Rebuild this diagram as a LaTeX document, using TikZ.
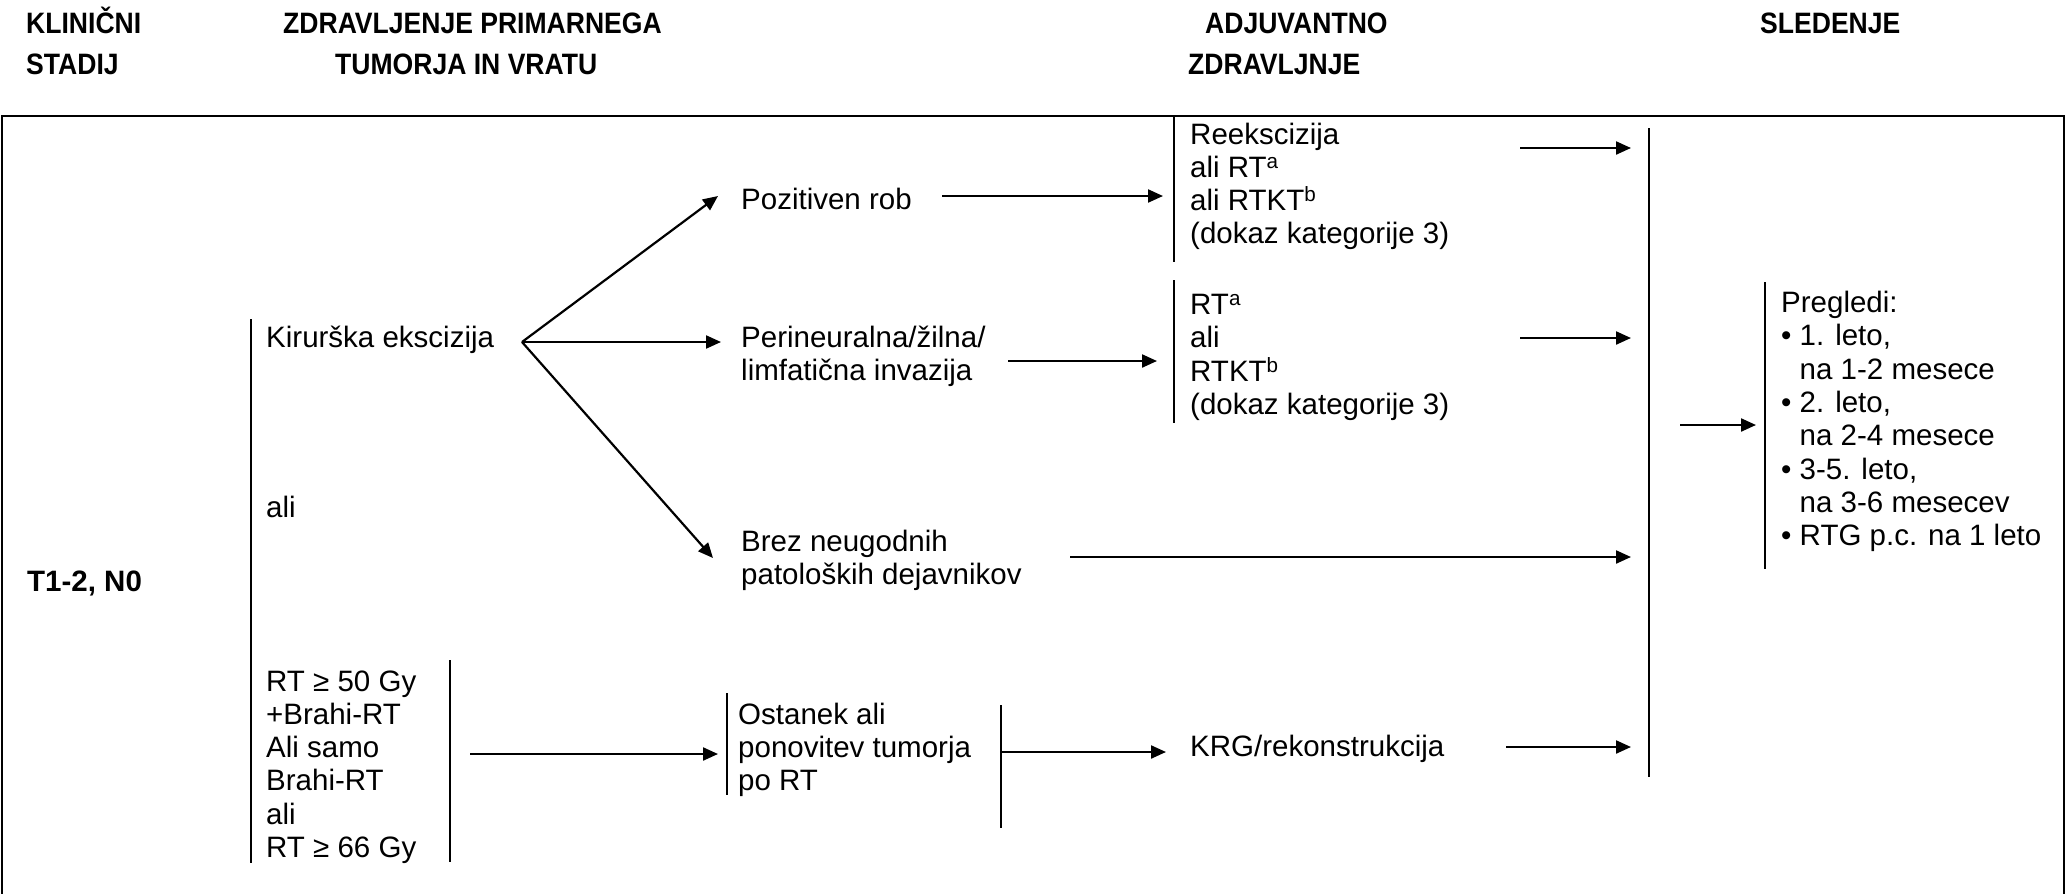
\documentclass[tikz,border=0pt]{standalone}
\usepackage{fontspec}
\setmainfont{Liberation Sans}
\usetikzlibrary{arrows.meta}

% one text line per node; a stack places lines 33.3 units apart
\newcommand\stack[4]{%
  \foreach \l [count=\i] in {#4}{%
    \node[txt] (#1\i) at (#2,{#3+(\i-1)*33.3}) {\l};}}
% narrowed bold heading text
\newcommand\headtext[1]{\scalebox{0.9}[1]{#1}}

\begin{document}
\begin{tikzpicture}[x=1pt,y=-1pt,
  txt/.style={anchor=base west,inner sep=0pt,font=\fontsize{29.5}{33}\selectfont},
  head/.style={anchor=base west,inner sep=0pt,font=\fontsize{29.5}{33}\selectfont\bfseries},
  bar/.style={line width=2.2pt},
  arr/.style={line width=2.2pt,-{Triangle[length=15pt,width=13pt]}},
  frame/.style={line width=2.6pt}]
\useasboundingbox (0,0) rectangle (2067,894);

% column headings
\node[head] (h1a) at (26,33) {\headtext{KLINIČNI}};
\node[head] (h1b) at (26,74) {\headtext{STADIJ}};
\node[head] (h2a) at (283,33) {\headtext{ZDRAVLJENJE PRIMARNEGA}};
\node[head] (h2b) at (335,74) {\headtext{TUMORJA IN VRATU}};
\node[head] (h3a) at (1205,33) {\headtext{ADJUVANTNO}};
\node[head] (h3b) at (1188,74) {\headtext{ZDRAVLJNJE}};
\node[head] (h4)  at (1760,33) {\headtext{SLEDENJE}};

% outer frame (open at the bottom)
\draw[frame] (2,930) -- (2,116) -- (2064,116) -- (2064,930);

% stage
\node[head] (stage) at (27,591) {T1-2, N0};

% primary treatment
\draw[bar] (251,319) -- (251,863);
\node[txt] (kir) at (266,347) {Kirurška ekscizija};
\node[txt] (ali) at (266,517) {ali};
\stack{rt}{266}{691}{RT ≥ 50 Gy, +Brahi-RT, Ali samo, Brahi-RT, ali, RT ≥ 66 Gy}
\draw[bar] (450,660) -- (450,862);

% outcomes after surgery
\node[txt] (poz) at (741,209) {Pozitiven rob};
\stack{per}{741}{347}{Perineuralna/žilna/, limfatična invazija}
\stack{brez}{741}{551}{Brez neugodnih, patoloških dejavnikov}

% residual tumour after RT
\draw[bar] (727,693) -- (727,795);
\stack{ost}{738}{724}{Ostanek ali, ponovitev tumorja, po RT}
\draw[bar] (1001,705) -- (1001,828);

% adjuvant treatment
\draw[bar] (1174,117) -- (1174,262);
\stack{reek}{1190}{144}{Reekscizija, ali RT\textsuperscript{a}, ali RTKT\textsuperscript{b}, (dokaz kategorije 3)}
\draw[bar] (1174,280) -- (1174,423);
\stack{rta}{1190}{314.5}{RT\textsuperscript{a}, ali, RTKT\textsuperscript{b}, (dokaz kategorije 3)}
\node[txt] (krg) at (1190,756) {KRG/rekonstrukcija};

% follow-up
\draw[bar] (1649,128) -- (1649,777);
\draw[bar] (1765,282) -- (1765,569);
\stack{pr}{1781}{312.5}{Pregledi:, {• 1. leto,}, \hphantom{• }na 1-2 mesece, {• 2. leto,}, \hphantom{• }na 2-4 mesece, {• 3-5. leto,}, \hphantom{• }na 3-6 mesecev, • RTG p.c. na 1 leto}

% connector end points
\coordinate (fan) at (522,342);
\coordinate (tPoz) at (718,196);
\coordinate (tPer) at (721,342);
\coordinate (tBrez) at (713,558);
\coordinate (sPoz) at (942,196);   \coordinate (ePoz) at (1163,196);
\coordinate (sPer) at (1008,361);  \coordinate (ePer) at (1157,361);
\coordinate (sReek) at (1520,148); \coordinate (eReek) at (1631,148);
\coordinate (sRta) at (1520,338);  \coordinate (eRta) at (1631,338);
\coordinate (sBrez) at (1070,557); \coordinate (eBrez) at (1631,557);
\coordinate (sKrg) at (1506,747);  \coordinate (eKrg) at (1631,747);
\coordinate (sFol) at (1680,425);  \coordinate (eFol) at (1756,425);
\coordinate (sRt) at (470,754);    \coordinate (eRt) at (718,754);
\coordinate (sOst) at (1001,752);  \coordinate (eOst) at (1166,752);

% connectors
\draw[arr] (fan) -- (tPoz);
\draw[arr] (fan) -- (tPer);
\draw[arr] (fan) -- (tBrez);
\draw[arr] (sPoz) -- (ePoz);
\draw[arr] (sPer) -- (ePer);
\draw[arr] (sReek) -- (eReek);
\draw[arr] (sRta) -- (eRta);
\draw[arr] (sBrez) -- (eBrez);
\draw[arr] (sKrg) -- (eKrg);
\draw[arr] (sFol) -- (eFol);
\draw[arr] (sRt) -- (eRt);
\draw[arr] (sOst) -- (eOst);
\end{tikzpicture}
\end{document}
